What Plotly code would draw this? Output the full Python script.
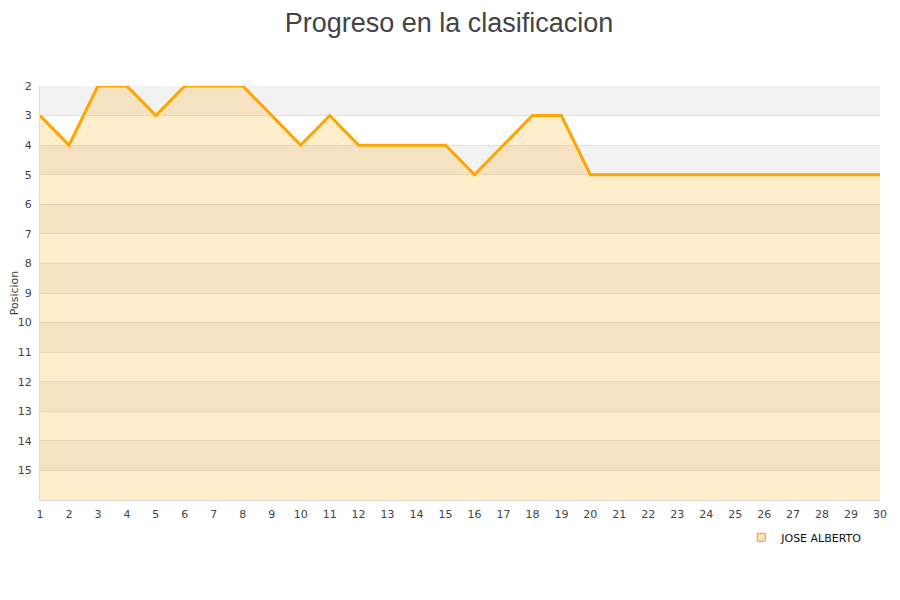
import plotly.graph_objects as go

jornadas = list(range(1, 31))
posiciones = [3, 4, 2, 2, 3, 2, 2, 2, 3, 4, 3, 4, 4, 4, 4, 5, 4, 3, 3, 5,
              5, 5, 5, 5, 5, 5, 5, 5, 5, 5]
y_ticks = list(range(2, 16))
y_min, y_max = 2, 16
player = "JOSE ALBERTO"

fig = go.Figure()

# baseline at the bottom of the (reversed) axis for the area fill
fig.add_trace(go.Scatter(x=jornadas, y=[y_max] * len(jornadas), mode="lines",
                         line=dict(width=0, color="rgba(0,0,0,0)"),
                         showlegend=False, hoverinfo="skip"))
fig.add_trace(go.Scatter(x=jornadas, y=posiciones, mode="lines",
                         line=dict(color="#ffa500", width=3),
                         fill="tonexty", fillcolor="rgba(255,165,0,0.2)",
                         showlegend=False, name=player))
# legend entry
fig.add_trace(go.Scatter(x=[None], y=[None], mode="markers", name=player,
                         marker=dict(symbol="square", size=8,
                                     color="rgba(255,230,180,1)",
                                     line=dict(color="#c8a060", width=1))))

shapes = []
for v in range(y_min, y_max, 2):
    shapes.append(dict(type="rect", xref="paper", yref="y", x0=0, x1=1,
                       y0=v, y1=v + 1, fillcolor="#f2f2f2", line=dict(width=0),
                       layer="below"))

fig.update_layout(
    width=900, height=600,
    paper_bgcolor="white", plot_bgcolor="white",
    margin=dict(l=32, r=28, t=78, b=108, autoexpand=False),
    title=dict(text="Progreso en la clasificacion", x=0.49, xanchor="center",
               y=0.975, yanchor="middle",
               font=dict(family="Liberation Sans", size=27, color="#444")),
    font=dict(family="DejaVu Sans", size=11, color="#444"),
    shapes=shapes,
    showlegend=True,
    legend=dict(x=0.986, xanchor="right", y=-0.09, yanchor="middle",
                orientation="h", font=dict(size=11, color="#111"),
                bgcolor="rgba(0,0,0,0)", itemwidth=30),
    xaxis=dict(range=[1, 30], tickvals=jornadas, ticks="", showgrid=False,
               showline=True, linecolor="#dddddd", linewidth=1, zeroline=False,
               tickfont=dict(size=11, color="#444"), automargin=False,
               ticklabelstandoff=4),
    yaxis=dict(range=[y_max, y_min], tickvals=y_ticks, ticks="",
               showgrid=True, gridcolor="rgba(200,200,200,0.45)", gridwidth=1,
               showline=True, linecolor="#dddddd", linewidth=1, zeroline=False,
               title=dict(text="Posicion", font=dict(size=11, color="#444"),
                          standoff=0),
               tickfont=dict(size=11, color="#444"), automargin=False,
               ticklabelstandoff=5, layer="above traces"),
)

fig.write_html("out.html")
